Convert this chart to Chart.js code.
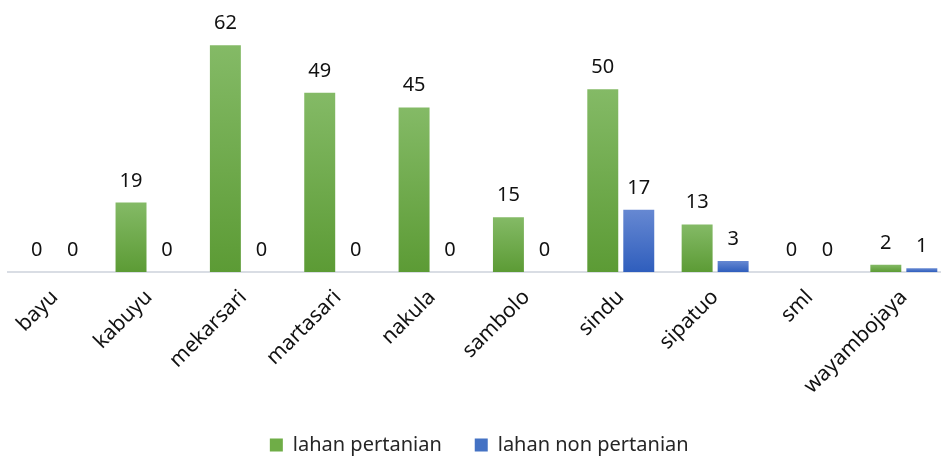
<!DOCTYPE html>
<html>
<head>
<meta charset="utf-8">
<script src="https://cdn.jsdelivr.net/npm/chart.js@4/dist/chart.umd.min.js"></script>
<style>
  html, body { margin: 0; padding: 0; background: #fff; overflow: hidden; width: 941px; height: 457px; }
  #wrap { width: 970px; height: 465px; position: relative; }
</style>
</head>
<body>
<div id="wrap"><canvas id="c"></canvas></div>
<script>
const categories = ["bayu", "kabuyu", "mekarsari", "martasari", "nakula", "sambolo", "sindu", "sipatuo", "sml", "wayambojaya"];
const seriesNames = ["lahan pertanian", "lahan non pertanian"];
const pertanian = [0, 19, 62, 49, 45, 15, 50, 13, 0, 2];
const nonPertanian = [0, 0, 0, 0, 0, 0, 17, 3, 0, 1];

const FONT = "'Noto Sans', 'Open Sans', sans-serif";

function gradFill(top, bottom, solid) {
  return (ctx) => {
    const chart = ctx.chart;
    if (ctx.type !== 'data' || !chart.chartArea || !ctx.parsed) return solid;
    const y = chart.scales.y;
    const y0 = y.getPixelForValue(ctx.parsed.y);
    const y1 = y.getPixelForValue(0);
    if (!isFinite(y0) || !isFinite(y1) || y1 - y0 < 1) return solid;
    const g = chart.ctx.createLinearGradient(0, y0, 0, y1);
    g.addColorStop(0, top);
    g.addColorStop(1, bottom);
    return g;
  };
}

const valueLabels = {
  id: 'valueLabels',
  afterDatasetsDraw(chart) {
    const ctx = chart.ctx;
    ctx.save();
    ctx.font = "20px " + FONT;
    ctx.fillStyle = '#111';
    ctx.textAlign = 'center';
    ctx.textBaseline = 'alphabetic';
    chart.data.datasets.forEach((ds, i) => {
      const meta = chart.getDatasetMeta(i);
      meta.data.forEach((el, j) => {
        ctx.fillText(String(ds.data[j]), el.x, el.y - 16);
      });
    });
    ctx.restore();
  }
};

new Chart(document.getElementById('c'), {
  type: 'bar',
  data: {
    labels: categories,
    datasets: [
      {
        label: seriesNames[0],
        data: pertanian,
        backgroundColor: gradFill('#84ba66', '#5c9b35', '#6fad47'),
        borderWidth: 0,
        categoryPercentage: 0.763,
        barPercentage: 0.86
      },
      {
        label: seriesNames[1],
        data: nonPertanian,
        backgroundColor: gradFill('#6688d2', '#2f5ebd', '#4472c4'),
        borderWidth: 0,
        categoryPercentage: 0.763,
        barPercentage: 0.86
      }
    ]
  },
  options: {
    responsive: true,
    maintainAspectRatio: false,
    animation: false,
    layout: { padding: { top: 16, left: 7.5, right: 19, bottom: 0 } },
    plugins: {
      legend: {
        position: 'bottom',
        labels: {
          boxWidth: 13,
          boxHeight: 13,
          padding: 33,
          color: '#262626',
          font: { family: FONT, size: 20 }
        }
      },
      tooltip: { enabled: false },
      title: { display: false }
    },
    scales: {
      x: {
        grid: { display: false, drawTicks: false },
        border: { display: true, color: '#d9dde4', width: 2 },
        ticks: {
          color: '#111',
          font: { family: FONT, size: 21 },
          minRotation: 45,
          maxRotation: 45,
          padding: 13,
          autoSkip: false
        },
        afterFit: (scale) => { scale.height = 130; }
      },
      y: {
        display: false,
        min: 0,
        max: 70
      }
    }
  },
  plugins: [valueLabels]
});
</script>
</body>
</html>
